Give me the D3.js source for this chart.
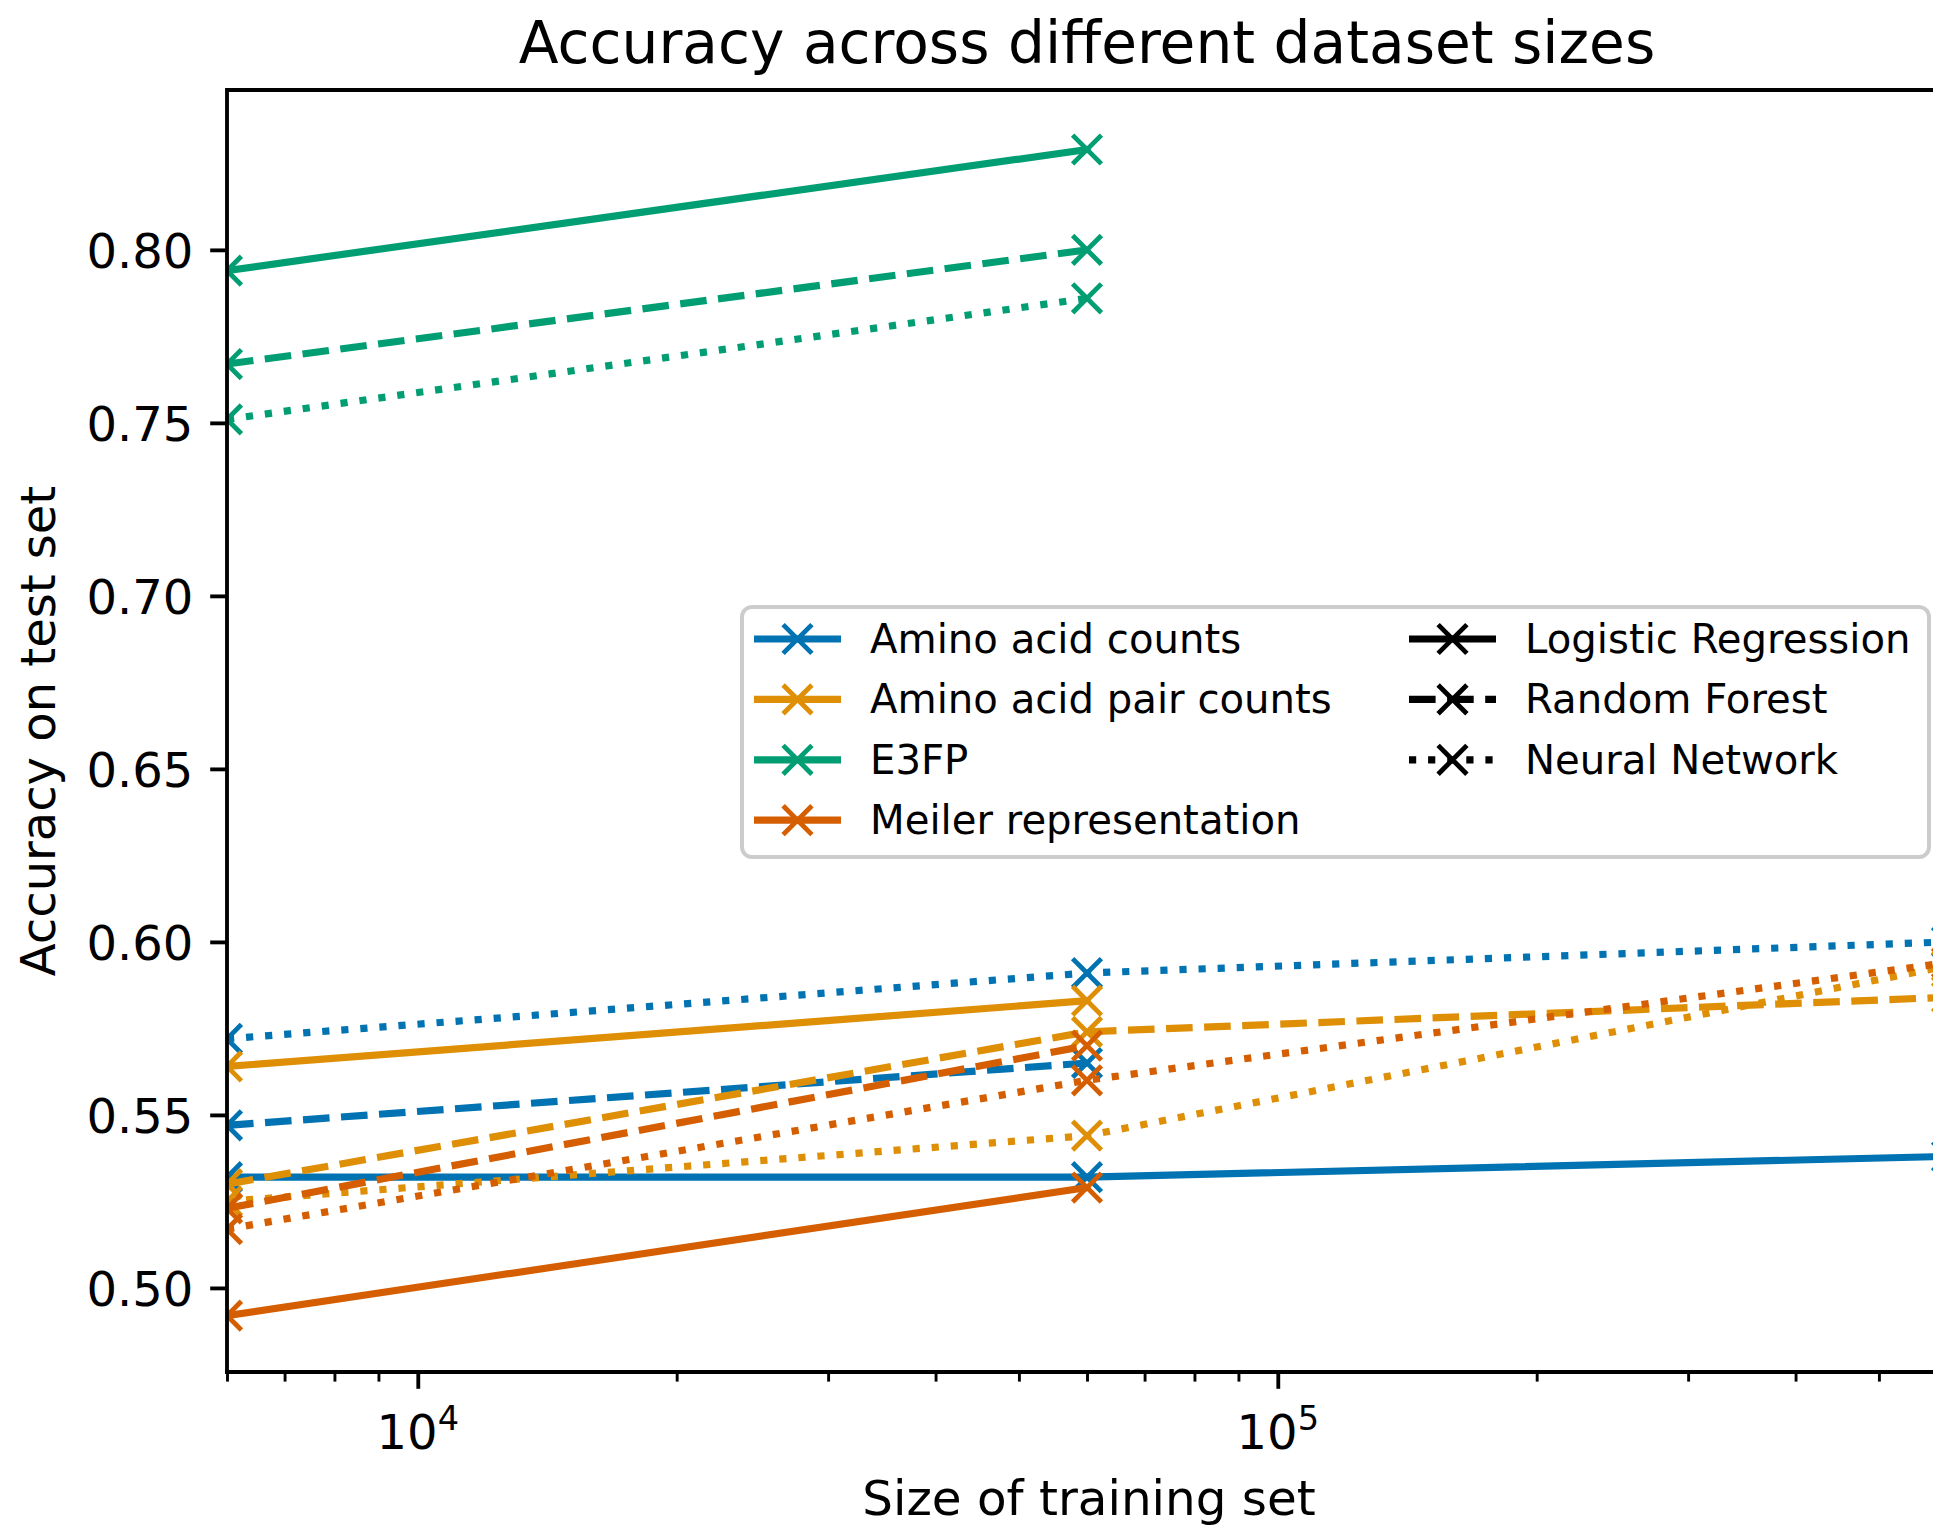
<!DOCTYPE html>
<html>
<head>
<meta charset="utf-8">
<script src="https://cdn.jsdelivr.net/npm/d3@7"></script>
<style>
  body { margin: 0; background: #fff; }
  svg text { font-family: "DejaVu Sans", sans-serif; fill: #000; }
</style>
</head>
<body>
<div id="chart"></div>
<script>
const width = 1933;
const height = 1527;
// axes box (right spine sits just past the picture edge)
const axLeft = 227, axRight = 1947, axTop = 90, axBottom = 1372;

const sizes = [6000, 60000, 600000];
const representations = ["Amino acid counts", "Amino acid pair counts", "E3FP", "Meiler representation"];
const colors = ["#0173b2", "#de8f05", "#029e73", "#d55e00"];
const models = ["Logistic Regression", "Random Forest", "Neural Network"];
const dashes = [null, "26.6,11.5", "7.2,11.9"];

// accuracy per size, one array per representation / model
const aacLR = [0.532, 0.532, 0.538];
const aacRF = [0.547, 0.565];
const aacNN = [0.572, 0.591, 0.600];
const pairLR = [0.564, 0.583];
const pairRF = [0.530, 0.574, 0.584];
const pairNN = [0.525, 0.544, 0.593];
const e3fpLR = [0.794, 0.829];
const e3fpRF = [0.767, 0.800];
const e3fpNN = [0.751, 0.786];
const meilerLR = [0.492, 0.529];
const meilerRF = [0.523, 0.570];
const meilerNN = [0.517, 0.560, 0.594];

const yTicks = [0.50, 0.55, 0.60, 0.65, 0.70, 0.75, 0.80];
const xMajor = [1e4, 1e5];
const xMajorExp = ["4", "5"];

const seriesValues = [
    [aacLR, aacRF, aacNN],
    [pairLR, pairRF, pairNN],
    [e3fpLR, e3fpRF, e3fpNN],
    [meilerLR, meilerRF, meilerNN]
];

let svg = d3.select("#chart").append("svg")
    .attr("width", width)
    .attr("height", height);

let xScale = d3.scaleLog()
    .domain([6000, 600000])
    .range([axLeft, axRight]);

let yScale = d3.scaleLinear()
    .domain([0.4757, 0.8462])
    .range([axBottom, axTop]);

svg.append("defs").append("clipPath")
    .attr("id", "plotclip")
    .append("rect")
    .attr("x", axLeft)
    .attr("y", axTop)
    .attr("width", axRight - axLeft)
    .attr("height", axBottom - axTop);

// x marker path
const h = 14.4;
const xMarker = `M${-h},${-h}L${h},${h}M${-h},${h}L${h},${-h}`;

let series = [];
representations.forEach((r, i) => {
    models.forEach((m, j) => {
        series.push({rep: i, model: j, values: seriesValues[i][j]});
    });
});

let line = d3.line()
    .x((d, k) => xScale(sizes[k]))
    .y(d => yScale(d));

let plot = svg.append("g").attr("clip-path", "url(#plotclip)");

series.forEach(s => {
    let g = plot.append("g");
    g.append("path")
        .datum(s.values)
        .attr("d", line)
        .attr("fill", "none")
        .attr("stroke", colors[s.rep])
        .attr("stroke-width", 7.2)
        .attr("stroke-linecap", s.model === 0 ? "square" : "butt")
        .attr("stroke-linejoin", "round")
        .attr("stroke-dasharray", dashes[s.model]);
    g.selectAll("path.mk")
        .data(s.values)
        .enter()
        .append("path")
        .attr("class", "mk")
        .attr("d", xMarker)
        .attr("transform", (d, k) => `translate(${xScale(sizes[k])},${yScale(d)})`)
        .attr("fill", "none")
        .attr("stroke", colors[s.rep])
        .attr("stroke-width", 4.8);
});

// y axis
let yAxis = svg.append("g")
    .attr("transform", `translate(${axLeft},0)`)
    .call(d3.axisLeft(yScale)
        .tickValues(yTicks)
        .tickFormat(d3.format(".2f"))
        .tickSize(16.8)
        .tickPadding(16.8)
        .tickSizeOuter(0));
yAxis.select(".domain").remove();
yAxis.selectAll(".tick line").attr("stroke", "#000").attr("stroke-width", 3.84);
yAxis.selectAll(".tick text")
    .style("font-size", "48px")
    .style("font-family", "DejaVu Sans")
    .attr("dy", "0.36em");

// x axis: minor ticks from the log scale, major decades labelled
let minor = xScale.ticks().filter(d => !xMajor.includes(d));
let xMinorAxis = svg.append("g")
    .attr("transform", `translate(0,${axBottom})`)
    .call(d3.axisBottom(xScale).tickValues(minor).tickFormat("").tickSize(9.6).tickSizeOuter(0));
xMinorAxis.select(".domain").remove();
xMinorAxis.selectAll(".tick line").attr("stroke", "#000").attr("stroke-width", 2.9);

let xMajorAxis = svg.append("g")
    .attr("transform", `translate(0,${axBottom})`)
    .call(d3.axisBottom(xScale).tickValues(xMajor).tickFormat("").tickSize(16.8).tickSizeOuter(0));
xMajorAxis.select(".domain").remove();
xMajorAxis.selectAll(".tick line").attr("stroke", "#000").attr("stroke-width", 3.84);

let xLabels = svg.append("g");
xMajor.forEach((v, i) => {
    let t = xLabels.append("text")
        .attr("x", xScale(v))
        .attr("y", 1449)
        .attr("text-anchor", "middle")
        .style("font-size", "48px");
    t.append("tspan").text("10");
    t.append("tspan")
        .attr("dy", -19.5)
        .style("font-size", "33.6px")
        .text(xMajorExp[i]);
});

// spines
svg.append("path")
    .attr("d", `M${axLeft},${axBottom}V${axTop}H${axRight}`)
    .attr("fill", "none")
    .attr("stroke", "#000")
    .attr("stroke-width", 3.84)
    .attr("stroke-linecap", "square");
svg.append("line")
    .attr("x1", axLeft).attr("x2", axRight)
    .attr("y1", axBottom).attr("y2", axBottom)
    .attr("stroke", "#000")
    .attr("stroke-width", 3.84)
    .attr("stroke-linecap", "square");

// titles
svg.append("text")
    .attr("x", (axLeft + axRight) / 2)
    .attr("y", 63)
    .attr("text-anchor", "middle")
    .style("font-size", "58.2px")
    .text("Accuracy across different dataset sizes");

svg.append("text")
    .attr("x", (axLeft + axRight) / 2 + 2)
    .attr("y", 1515)
    .attr("text-anchor", "middle")
    .style("font-size", "48.4px")
    .text("Size of training set");

svg.append("text")
    .attr("transform", `translate(55,${(axTop + axBottom) / 2}) rotate(-90)`)
    .attr("text-anchor", "middle")
    .style("font-size", "48px")
    .text("Accuracy on test set");

// legend
let legend = svg.append("g");
legend.append("rect")
    .attr("x", 742)
    .attr("y", 607)
    .attr("width", 1187)
    .attr("height", 250)
    .attr("rx", 10)
    .attr("fill", "#fff")
    .attr("fill-opacity", 0.8)
    .attr("stroke", "#cccccc")
    .attr("stroke-width", 4);

const rowY = i => 639 + i * 60.4;

function legendEntry(x0, y, color, dash, label) {
    let g = legend.append("g");
    g.append("line")
        .attr("x1", x0).attr("x2", x0 + 87)
        .attr("y1", y).attr("y2", y)
        .attr("stroke", color)
        .attr("stroke-width", 7.2)
        .attr("stroke-dasharray", dash);
    g.append("path")
        .attr("d", xMarker)
        .attr("transform", `translate(${x0 + 43.5},${y})`)
        .attr("fill", "none")
        .attr("stroke", color)
        .attr("stroke-width", 4.8);
    g.append("text")
        .attr("x", x0 + 116)
        .attr("y", y + 14)
        .style("font-size", "40.2px")
        .text(label);
}

representations.forEach((r, i) => legendEntry(754, rowY(i), colors[i], null, r));
models.forEach((m, j) => legendEntry(1409, rowY(j), "#000", dashes[j], m));
</script>
</body>
</html>
